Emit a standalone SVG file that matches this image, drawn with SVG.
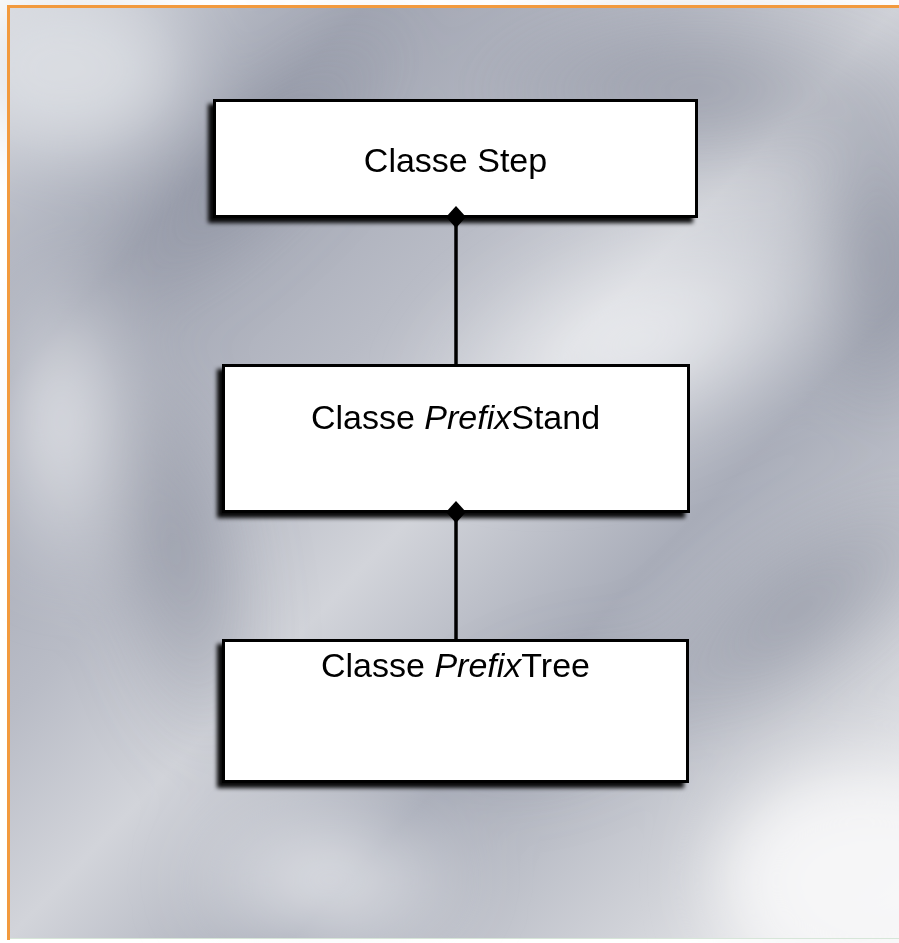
<svg xmlns="http://www.w3.org/2000/svg" width="899" height="943" viewBox="0 0 899 943">
  <defs>
    <!-- brushed-metal backdrop -->
    <linearGradient id="metalBase" x1="0" y1="0" x2="1" y2="1">
      <stop offset="0" stop-color="#d4d7de"/>
      <stop offset="0.2" stop-color="#a2a6b3"/>
      <stop offset="0.38" stop-color="#b9bcc6"/>
      <stop offset="0.5" stop-color="#d2d4da"/>
      <stop offset="0.66" stop-color="#a9adb9"/>
      <stop offset="0.84" stop-color="#d0d2d8"/>
      <stop offset="1" stop-color="#f5f5f6"/>
    </linearGradient>
    <radialGradient id="glowCenter" cx="0.5" cy="0.5" r="0.5">
      <stop offset="0" stop-color="#f3f4f6" stop-opacity="0.9"/>
      <stop offset="1" stop-color="#f3f4f6" stop-opacity="0"/>
    </radialGradient>
    <radialGradient id="darkBand" cx="0.5" cy="0.5" r="0.5">
      <stop offset="0" stop-color="#7c8191" stop-opacity="0.65"/>
      <stop offset="1" stop-color="#7c8191" stop-opacity="0"/>
    </radialGradient>
    <filter id="soft" x="-50%" y="-50%" width="200%" height="200%">
      <feGaussianBlur stdDeviation="35"/>
    </filter>
    <filter id="boxShadow" x="-10%" y="-10%" width="120%" height="125%">
      <feDropShadow dx="-5" dy="5" stdDeviation="2.2" flood-color="#000" flood-opacity="0.95"/>
    </filter>
    <style>
      .box { fill: #ffffff; stroke: #000000; stroke-width: 3; filter: url(#boxShadow); }
      .label { font-family: "Liberation Sans", Arial, sans-serif; font-size: 34px; fill: #000000; text-anchor: middle; }
      .link { stroke: #000000; stroke-width: 3.5; fill: none; }
      .diamond { fill: #000000; }
    </style>
  </defs>

  <!-- backdrop -->
  <rect x="0" y="0" width="899" height="943" fill="#ffffff"/>
  <g id="backdrop">
    <rect x="8" y="6" width="891" height="933" fill="url(#metalBase)"/>
    <g filter="url(#soft)">
      <ellipse cx="70" cy="70" rx="110" ry="80" fill="#dfe1e6" opacity="0.8"/>
      <ellipse cx="250" cy="170" rx="60" ry="240" fill="url(#darkBand)" transform="rotate(45 250 170)"/>
      <ellipse cx="700" cy="90" rx="260" ry="90" fill="url(#darkBand)"/>
      <ellipse cx="880" cy="250" rx="70" ry="200" fill="url(#darkBand)"/>
      <ellipse cx="60" cy="420" rx="80" ry="180" fill="url(#glowCenter)"/>
      <ellipse cx="180" cy="560" rx="70" ry="220" fill="url(#darkBand)" transform="rotate(-10 180 560)"/>
      <ellipse cx="640" cy="340" rx="240" ry="110" fill="url(#glowCenter)" transform="rotate(-20 640 340)"/>
      <ellipse cx="800" cy="610" rx="220" ry="70" fill="url(#darkBand)" transform="rotate(-35 800 610)"/>
      <ellipse cx="560" cy="720" rx="140" ry="60" fill="url(#darkBand)" transform="rotate(-20 560 720)"/>
      <ellipse cx="330" cy="880" rx="150" ry="80" fill="url(#glowCenter)"/>
      <ellipse cx="860" cy="880" rx="140" ry="110" fill="#f7f7f8" opacity="0.95"/>
    </g>
    <!-- orange frame edges -->
    <line x1="7" y1="6.5" x2="899" y2="6.5" stroke="#f29a3e" stroke-width="3"/>
    <line x1="8.5" y1="5" x2="8.5" y2="940" stroke="#f29a3e" stroke-width="3"/>
    <line x1="10" y1="938.5" x2="899" y2="938.5" stroke="#d6e6d8" stroke-width="1"/>
  </g>

  <!-- connectors -->
  <g id="connectors">
    <line class="link" x1="456" y1="217" x2="456" y2="365"/>
    <line class="link" x1="456" y1="512" x2="456" y2="640"/>
  </g>

  <g id="node-step">
    <rect class="box" x="214.5" y="100.5" width="482" height="116"/>
    <text class="label" x="455.5" y="172">Classe Step</text>
  </g>

  <g id="node-prefixstand">
    <rect class="box" x="223.5" y="365.5" width="465" height="146"/>
    <text class="label" x="455.5" y="429">Classe <tspan font-style="italic">Prefix</tspan>Stand</text>
  </g>

  <g id="node-prefixtree">
    <rect class="box" x="223.5" y="640.5" width="464" height="141"/>
    <text class="label" x="455.5" y="677">Classe <tspan font-style="italic">Prefix</tspan>Tree</text>
  </g>

  <!-- composition diamonds sit on top of the owner box borders -->
  <g id="diamond-caps">
    <polygon class="diamond" points="456,206 466,217 456,228 446,217"/>
    <polygon class="diamond" points="456,501 466,512 456,523 446,512"/>
  </g>
</svg>
